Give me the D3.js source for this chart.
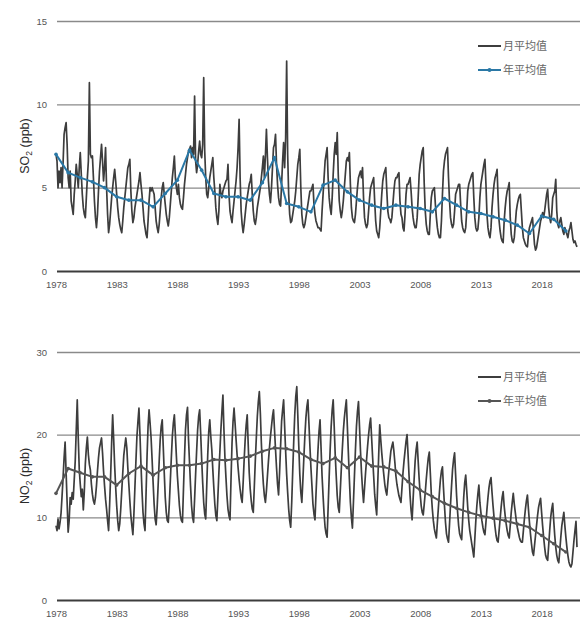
<!DOCTYPE html>
<html>
<head>
<meta charset="utf-8">
<script src="https://cdn.jsdelivr.net/npm/d3@7"></script>
<style>
  html, body { margin: 0; padding: 0; background: #fff; }
  svg { display: block; }
  .tick text { font-family: "Liberation Sans", "DejaVu Sans", sans-serif; font-size: 9.5px; fill: #555; }
  .legend text { font-family: "Noto Sans CJK SC", sans-serif; font-size: 11px; fill: #666; }
  .ytitle { font-family: "Liberation Sans", "DejaVu Sans", sans-serif; font-size: 12.5px; fill: #2a2a2a; }
</style>
</head>
<body>
<svg id="chart" width="582" height="619"></svg>
<script>
// Years covered by the monthly record (Jan 1978 – Dec 2020)
const years = d3.range(1978, 2021);
const xTickYears = [1978, 1983, 1988, 1993, 1998, 2003, 2008, 2013, 2018];

// SO2 monthly means (ppb), one row of 12 months per year
const so2Monthly = [
  [7.0, 6.6, 5.0, 6.0, 5.3, 6.2, 5.0, 6.5, 8.2, 8.6, 8.9, 7.6],
  [5.6, 5.0, 6.0, 4.2, 3.8, 3.4, 4.6, 5.4, 6.4, 5.8, 5.0, 6.2],
  [7.1, 5.8, 4.6, 3.8, 3.4, 3.2, 4.4, 5.6, 6.6, 11.3, 7.0, 6.8],
  [6.9, 5.6, 4.2, 3.2, 2.6, 3.4, 4.8, 6.0, 6.8, 7.6, 6.6, 5.4],
  [6.2, 7.4, 5.0, 3.4, 2.3, 2.8, 3.6, 4.4, 5.0, 5.6, 6.1, 5.4],
  [4.6, 3.8, 3.2, 2.8, 2.5, 2.3, 3.0, 3.8, 4.4, 5.0, 5.6, 6.2],
  [6.4, 6.7, 4.8, 3.6, 2.9, 3.2, 3.8, 4.2, 4.6, 5.0, 5.4, 5.9],
  [5.2, 4.6, 3.8, 3.0, 2.6, 2.2, 2.0, 3.0, 4.2, 5.0, 4.8, 5.0],
  [4.8, 4.6, 3.8, 3.0, 2.6, 2.3, 2.8, 3.6, 4.4, 5.0, 5.3, 4.6],
  [4.0, 3.4, 3.0, 2.7, 3.2, 4.0, 4.8, 5.6, 6.2, 6.9, 5.6, 5.0],
  [4.6, 5.2, 4.4, 4.0, 3.8, 3.7, 4.4, 5.2, 5.8, 6.4, 6.8, 7.2],
  [7.3, 7.5, 6.8, 7.4, 7.0, 10.5, 6.6, 5.9, 6.4, 7.2, 7.8, 7.0],
  [6.8, 7.6, 11.6, 7.2, 5.6, 4.6, 4.4, 5.0, 5.6, 6.0, 6.4, 6.8],
  [5.6, 4.8, 3.8, 3.2, 2.8, 3.6, 5.2, 4.6, 4.4, 4.8, 5.0, 5.2],
  [5.4, 5.5, 6.4, 4.6, 3.6, 3.2, 2.9, 3.6, 4.2, 4.8, 5.4, 6.2],
  [7.4, 9.1, 5.6, 3.6, 2.8, 2.3, 2.8, 3.4, 4.0, 4.4, 4.8, 5.2],
  [5.4, 5.8, 4.6, 3.6, 3.0, 2.8, 3.2, 3.8, 4.2, 4.6, 5.0, 5.6],
  [6.2, 6.9, 5.6, 6.9, 8.5, 6.8, 5.4, 4.6, 4.1, 5.0, 6.2, 7.4],
  [7.6, 8.2, 6.4, 5.2, 4.4, 4.0, 3.9, 5.2, 6.6, 7.7, 6.2, 8.0],
  [12.6, 7.0, 4.6, 3.4, 2.9, 3.0, 3.4, 3.8, 4.2, 4.8, 5.6, 6.4],
  [6.8, 7.3, 5.0, 3.4, 2.8, 2.6, 2.8, 3.2, 3.6, 4.0, 4.4, 4.8],
  [4.8, 5.0, 5.2, 4.0, 3.4, 3.0, 2.8, 2.6, 2.6, 2.5, 2.4, 3.6],
  [4.6, 5.6, 6.6, 7.0, 7.4, 5.6, 4.4, 3.8, 3.4, 4.4, 5.8, 7.0],
  [7.7, 7.0, 8.3, 5.8, 4.2, 3.6, 3.2, 3.6, 4.2, 5.0, 5.8, 6.6],
  [6.8, 6.6, 7.1, 5.2, 3.8, 3.2, 3.0, 2.9, 3.4, 4.2, 5.0, 5.6],
  [5.8, 6.0, 5.6, 6.2, 4.4, 3.2, 2.8, 2.6, 2.8, 3.6, 4.4, 5.0],
  [5.2, 5.4, 5.6, 4.2, 3.0, 2.4, 2.2, 2.0, 2.6, 3.6, 4.6, 5.4],
  [5.8, 6.0, 6.2, 4.8, 3.6, 3.2, 3.1, 2.9, 3.2, 4.0, 4.8, 5.4],
  [5.6, 5.6, 5.8, 5.9, 4.2, 3.4, 3.2, 2.6, 2.4, 3.4, 4.6, 5.2],
  [5.2, 5.4, 5.6, 4.8, 3.8, 3.2, 2.8, 2.6, 2.6, 3.2, 4.4, 5.8],
  [6.4, 6.8, 7.2, 7.4, 5.2, 3.6, 2.8, 2.4, 2.2, 2.2, 3.4, 4.4],
  [4.8, 4.9, 5.0, 4.0, 3.2, 2.6, 2.2, 2.0, 2.0, 3.0, 4.6, 6.0],
  [6.6, 7.0, 7.2, 7.4, 5.6, 4.2, 3.2, 2.8, 2.6, 2.8, 3.6, 4.6],
  [4.8, 5.0, 5.2, 5.2, 4.0, 3.0, 2.6, 2.4, 2.3, 2.6, 3.6, 4.8],
  [5.2, 5.4, 5.6, 5.8, 5.9, 4.4, 3.2, 2.6, 2.4, 2.5, 3.2, 4.4],
  [5.2, 5.6, 6.0, 6.4, 6.7, 5.2, 3.4, 2.6, 2.2, 2.0, 2.6, 3.8],
  [4.6, 5.2, 5.6, 5.8, 6.1, 4.4, 3.0, 2.4, 2.0, 1.8, 1.7, 3.0],
  [3.8, 4.4, 4.8, 5.0, 5.3, 3.2, 2.2, 1.8, 1.7, 2.0, 2.8, 3.6],
  [4.0, 4.3, 4.5, 4.6, 3.6, 2.6, 2.0, 1.8, 1.6, 1.5, 1.45, 2.2],
  [2.6, 2.8, 3.0, 3.2, 2.4, 1.6, 1.25, 1.4, 1.8, 2.2, 2.6, 3.0],
  [3.2, 3.5, 3.2, 3.6, 4.1, 4.6, 4.9, 3.8, 3.2, 2.9, 3.4, 4.4],
  [4.6, 4.8, 5.5, 3.6, 2.8, 2.6, 3.0, 3.2, 2.8, 2.4, 2.2, 2.6],
  [2.4, 2.2, 2.0, 2.4, 2.6, 2.9, 2.4, 1.9, 1.7, 1.8, 1.6, 1.45]
];

// SO2 annual means (ppb), 1978–2020
const so2Annual = [
  7.0, 5.9, 5.6, 5.35, 5.0, 4.45, 4.25, 4.25, 3.85, 4.65,
  5.45, 7.25, 6.05, 4.65, 4.45, 4.45, 4.25, 5.3, 6.8, 4.05,
  3.85, 3.55, 5.15, 5.45, 4.75, 4.25, 3.95, 3.75, 3.95, 3.85,
  3.75, 3.55, 4.35, 3.95, 3.55, 3.45, 3.25, 3.05, 2.75, 2.25,
  3.3, 3.1, 2.4
];

// NO2 monthly means (ppb), one row of 12 months per year
const no2Monthly = [
  [9.0, 8.4, 9.8, 8.6, 9.4, 10.5, 12.6, 14.8, 17.2, 19.1, 15.4, 11.8],
  [8.2, 9.6, 12.4, 11.6, 13.0, 12.2, 14.5, 16.8, 20.5, 24.2, 19.6, 15.8],
  [14.0, 12.5, 13.4, 10.9, 13.2, 16.5, 18.4, 19.7, 17.6, 16.4, 15.7, 14.0],
  [12.8, 12.0, 11.6, 12.4, 13.8, 15.6, 17.2, 18.4, 19.0, 19.6, 17.8, 15.6],
  [13.8, 12.2, 11.0, 9.6, 8.4, 11.5, 15.0, 19.0, 22.4, 19.5, 16.2, 13.6],
  [11.4, 9.6, 8.4, 9.2, 11.0, 13.2, 15.4, 17.5, 18.6, 19.6, 18.4, 16.0],
  [14.0, 12.0, 10.2, 9.0, 7.9, 10.4, 13.6, 16.8, 19.8, 21.6, 23.2, 20.0],
  [16.4, 13.2, 10.6, 9.2, 8.4, 12.8, 17.4, 21.0, 23.0, 21.4, 19.6, 17.0],
  [14.2, 11.6, 9.8, 9.1, 11.2, 14.0, 16.8, 19.4, 21.0, 21.8, 18.6, 15.4],
  [12.4, 10.6, 9.6, 9.4, 11.6, 14.4, 17.2, 19.8, 21.4, 22.4, 20.0, 17.4],
  [15.0, 13.2, 11.4, 10.2, 9.6, 9.4, 13.4, 17.2, 20.6, 22.4, 23.3, 19.4],
  [16.6, 13.8, 11.4, 10.0, 9.4, 12.2, 15.2, 18.0, 20.6, 22.2, 23.0, 20.2],
  [17.0, 14.2, 11.8, 10.4, 9.8, 13.8, 17.6, 20.4, 21.8, 19.8, 18.2, 15.8],
  [13.6, 11.6, 10.2, 9.6, 12.4, 15.4, 18.0, 20.6, 22.8, 24.8, 20.6, 17.2],
  [14.8, 12.6, 11.0, 10.2, 9.7, 14.6, 19.0, 21.6, 23.2, 21.4, 19.4, 17.6],
  [16.0, 14.6, 13.4, 12.4, 11.8, 14.2, 17.0, 19.4, 21.2, 22.4, 18.8, 15.4],
  [13.4, 12.0, 11.0, 10.6, 13.6, 16.8, 19.6, 22.2, 24.0, 25.2, 22.6, 19.0],
  [16.0, 14.0, 12.6, 11.8, 13.2, 15.0, 16.8, 18.4, 19.8, 21.0, 22.2, 23.0],
  [20.6, 18.2, 16.0, 14.0, 12.7, 15.4, 18.6, 21.6, 23.0, 24.2, 21.0, 18.0],
  [15.2, 13.0, 11.0, 9.6, 8.8, 11.8, 15.6, 19.2, 22.4, 24.6, 25.8, 22.4],
  [18.6, 15.2, 13.0, 11.8, 14.4, 17.2, 19.8, 22.0, 23.4, 24.2, 21.4, 18.6],
  [16.0, 13.8, 11.6, 10.4, 9.7, 12.8, 15.6, 18.2, 20.4, 21.8, 18.4, 15.0],
  [12.6, 10.4, 8.8, 8.0, 7.6, 11.2, 14.8, 18.2, 21.0, 23.0, 24.2, 21.0],
  [17.6, 15.0, 12.6, 11.2, 10.6, 13.2, 15.8, 18.2, 20.4, 22.0, 23.2, 24.2],
  [21.0, 17.8, 14.6, 11.8, 10.0, 8.7, 11.8, 15.0, 18.2, 21.0, 22.8, 24.0],
  [21.0, 18.0, 15.4, 13.4, 11.8, 13.6, 15.4, 17.0, 18.6, 20.0, 21.2, 22.0],
  [19.6, 17.2, 15.0, 12.8, 11.4, 10.3, 14.0, 17.6, 21.2, 19.4, 17.8, 16.4],
  [15.2, 14.0, 13.2, 12.7, 14.2, 15.6, 16.8, 18.0, 18.6, 19.1, 18.0, 16.6],
  [15.0, 14.0, 13.3, 12.6, 12.2, 11.8, 13.6, 15.4, 16.8, 18.0, 19.2, 20.0],
  [17.6, 15.0, 12.6, 10.8, 9.7, 12.2, 14.6, 16.8, 18.2, 19.1, 16.8, 14.6],
  [12.8, 11.4, 10.6, 10.3, 11.6, 13.0, 14.6, 16.0, 17.2, 17.9, 15.4, 12.8],
  [11.0, 9.6, 8.6, 8.0, 7.5, 9.4, 11.2, 13.0, 14.6, 15.6, 16.1, 13.6],
  [11.4, 9.4, 8.0, 7.4, 7.0, 9.2, 11.6, 13.8, 15.8, 17.0, 17.8, 15.2],
  [12.6, 10.6, 9.0, 8.0, 7.6, 7.3, 9.8, 12.4, 14.2, 15.1, 13.2, 11.2],
  [9.6, 8.4, 7.6, 6.8, 6.0, 5.2, 7.4, 9.6, 11.4, 12.8, 13.9, 11.8],
  [10.6, 9.6, 8.8, 8.2, 7.9, 9.4, 11.0, 12.4, 13.6, 14.4, 14.8, 13.0],
  [11.4, 10.0, 8.8, 7.8, 7.2, 7.0, 8.4, 9.8, 11.2, 12.4, 13.1, 11.4],
  [10.2, 9.2, 8.4, 7.8, 7.5, 9.0, 10.6, 11.8, 12.9, 11.6, 10.6, 9.6],
  [8.8, 8.2, 7.6, 7.2, 7.0, 7.0, 8.4, 9.8, 11.0, 12.0, 12.7, 11.0],
  [9.4, 8.0, 6.8, 5.8, 5.4, 6.6, 7.8, 9.0, 10.2, 11.2, 11.8, 12.3],
  [10.6, 9.0, 7.6, 6.4, 5.4, 5.0, 4.8, 6.6, 8.4, 10.0, 11.0, 11.7],
  [9.6, 7.8, 6.4, 5.4, 4.8, 4.5, 6.0, 7.6, 9.0, 9.8, 10.6, 9.0],
  [7.6, 6.4, 5.4, 4.6, 4.2, 4.0, 4.4, 5.8, 7.2, 8.4, 9.5, 6.4]
];

// NO2 annual means (ppb), 1978–2020
const no2Annual = [
  12.9, 15.9, 15.4, 14.9, 14.9, 13.9, 15.3, 16.2, 15.1, 16.0,
  16.3, 16.3, 16.5, 17.0, 16.9, 17.1, 17.4, 18.0, 18.4, 18.3,
  17.9, 17.0, 16.5, 17.2, 16.0, 17.3, 16.2, 16.1, 15.6, 14.3,
  13.3, 12.5, 11.7, 11.1, 10.6, 10.2, 9.9, 9.6, 9.2, 8.8,
  7.8, 6.8, 5.8
];

const legendLabels = ["月平均值", "年平均值"];

const svg = d3.select("#chart");
svg.append("rect").attr("width", 582).attr("height", 619).attr("fill", "#fff");

const nMonths = years.length * 12;
const x = d3.scaleLinear().domain([0, nMonths - 1]).range([56, 577]);

function drawPanel(cfg) {
  const g = svg.append("g");
  const y = d3.scaleLinear().domain([0, cfg.max]).range([cfg.bottom, cfg.top]);

  // horizontal gridlines + y tick labels
  const yAxis = g.append("g")
    .attr("transform", "translate(57,0)")
    .call(d3.axisLeft(y).tickValues(cfg.ticks).tickSize(-523).tickPadding(10));
  yAxis.select(".domain").remove();
  yAxis.selectAll(".tick line")
    .attr("stroke", d => d === 0 ? "#3c3c3c" : "#8a8a8a")
    .attr("stroke-width", d => d === 0 ? 2 : 1.3);

  // x tick labels every five years
  const xAxis = g.append("g")
    .attr("transform", `translate(0,${cfg.bottom})`)
    .call(d3.axisBottom(x)
      .tickValues(xTickYears.map(yr => (yr - years[0]) * 12))
      .tickFormat(i => years[0] + Math.round(i / 12))
      .tickSize(0).tickPadding(10));
  xAxis.select(".domain").remove();

  // monthly series
  const monthly = d3.merge(cfg.monthly).map((v, i) => ({ i, v }));
  g.append("path")
    .datum(monthly)
    .attr("fill", "none")
    .attr("stroke", "#3d3d3d")
    .attr("stroke-width", 1.7)
    .attr("stroke-linejoin", "round")
    .attr("d", d3.line().x(d => x(d.i)).y(d => y(d.v)));

  // annual series, one point at the start of each year
  const annual = cfg.annual.map((v, k) => ({ i: k * 12, v }));
  g.append("path")
    .datum(annual)
    .attr("fill", "none")
    .attr("stroke", cfg.annualColor)
    .attr("stroke-width", 2)
    .attr("stroke-linejoin", "round")
    .attr("d", d3.line().x(d => x(d.i)).y(d => y(d.v)));
  g.append("g").selectAll("circle")
    .data(annual)
    .join("circle")
    .attr("cx", d => x(d.i))
    .attr("cy", d => y(d.v))
    .attr("r", 1.8)
    .attr("fill", cfg.annualColor);

  // y-axis title with subscript
  const t = g.append("text")
    .attr("class", "ytitle")
    .attr("transform", `translate(29,${cfg.titleY}) rotate(-90)`)
    .attr("text-anchor", "middle");
  t.append("tspan").text(cfg.gas);
  t.append("tspan").attr("font-size", "8.5px").attr("dy", 3).text("2");
  t.append("tspan").attr("dy", -3).text(" (ppb)");

  // legend
  const lg = g.append("g").attr("class", "legend");
  const rows = [
    { label: legendLabels[0], color: "#3d3d3d", marker: false, y: cfg.legendY },
    { label: legendLabels[1], color: cfg.annualColor, marker: true, y: cfg.legendY + 24 }
  ];
  rows.forEach(r => {
    lg.append("line")
      .attr("x1", 478).attr("x2", 501).attr("y1", r.y).attr("y2", r.y)
      .attr("stroke", r.color).attr("stroke-width", 2);
    if (r.marker) {
      lg.append("circle").attr("cx", 489.5).attr("cy", r.y).attr("r", 2).attr("fill", r.color);
    }
    lg.append("text").attr("x", 503).attr("y", r.y).attr("dy", "0.35em").text(r.label);
  });
}

drawPanel({
  gas: "SO", max: 15, ticks: [0, 5, 10, 15], top: 21, bottom: 271,
  monthly: so2Monthly, annual: so2Annual, annualColor: "#2a78a6",
  titleY: 146, legendY: 46
});

drawPanel({
  gas: "NO", max: 30, ticks: [0, 10, 20, 30], top: 352, bottom: 600,
  monthly: no2Monthly, annual: no2Annual, annualColor: "#555555",
  titleY: 476, legendY: 377
});
</script>
</body>
</html>
